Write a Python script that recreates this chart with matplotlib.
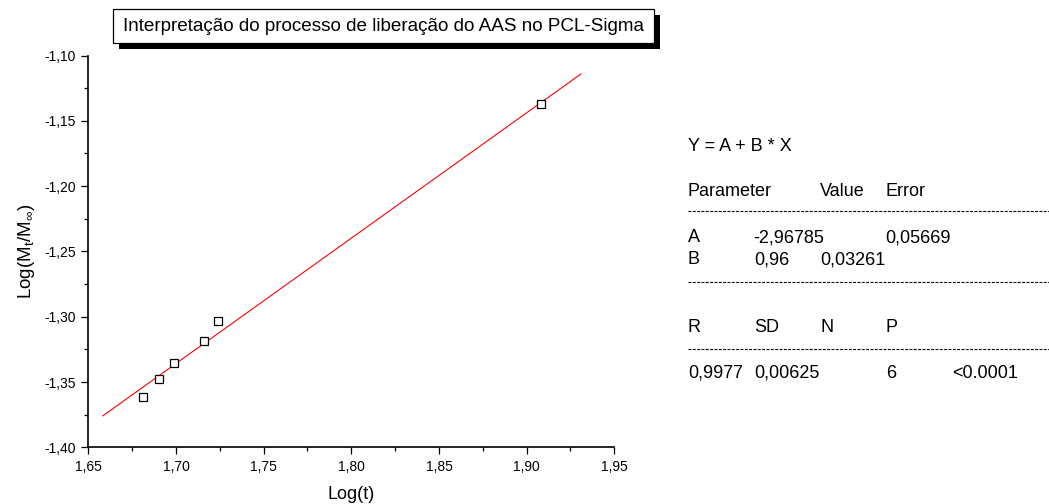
import matplotlib
matplotlib.use("Agg")
import matplotlib.pyplot as plt
from matplotlib.patches import Rectangle
from matplotlib.lines import Line2D

plt.rcParams['font.family'] = ['Liberation Sans', 'DejaVu Sans']
plt.rcParams['mathtext.fontset'] = 'custom'
plt.rcParams['mathtext.rm'] = 'Liberation Sans'
plt.rcParams['mathtext.it'] = 'Liberation Sans'

log_t = [1.6810, 1.6902, 1.6989, 1.7160, 1.7240, 1.9082]
log_m = [-1.3613, -1.3475, -1.3357, -1.3184, -1.3033, -1.1371]

# ajuste linear Y = A + B * X
fit_a = -2.96785
fit_b = 0.96

x_ticks = [1.65, 1.70, 1.75, 1.80, 1.85, 1.90, 1.95]
x_tick_labels = ['1,65', '1,70', '1,75', '1,80', '1,85', '1,90', '1,95']
y_ticks = [-1.40, -1.35, -1.30, -1.25, -1.20, -1.15, -1.10]
y_tick_labels = ['-1,40', '-1,35', '-1,30', '-1,25', '-1,20', '-1,15', '-1,10']

title = 'Interpretação do processo de liberação do AAS no PCL-Sigma'

# tabela do resultado do ajuste
table_header = ['Parameter', 'Value', 'Error']
row_a = ['A', '-2,96785', '0,05669']
row_b = ['B', '0,96', '0,03261']
stats_header = ['R', 'SD', 'N', 'P']
stats_values = ['0,9977', '0,00625', '6', '<0.0001']

W, H = 1049, 504


def px(x, y):
    return x / W, 1 - y / H


fig = plt.figure(figsize=(W / 100, H / 100), dpi=100)
ax = fig.add_axes([88.3 / W, 1 - 447.3 / H, 526 / W, 391.8 / H])

# reta do ajuste, estendida 10% do intervalo dos dados
span = max(log_t) - min(log_t)
x0 = min(log_t) - 0.1 * span
x1 = max(log_t) + 0.1 * span
ax.plot([x0, x1], [fit_a + fit_b * x0, fit_a + fit_b * x1], color='red', lw=0.8)
ax.plot(log_t, log_m, ls='none', marker='s', ms=6.3, mfc='white', mec='black', mew=0.9)

ax.set_xlim(1.65, 1.95)
ax.set_ylim(-1.40, -1.10)
ax.set_xticks(x_ticks)
ax.set_xticklabels(x_tick_labels)
ax.set_yticks(y_ticks)
ax.set_yticklabels(y_tick_labels)
ax.set_xticks([v + 0.025 for v in x_ticks[:-1]], minor=True)
ax.set_yticks([v + 0.025 for v in y_ticks[:-1]], minor=True)
ax.tick_params(which='major', direction='out', length=4.7, width=0.9, labelsize=10, pad=4.2)
ax.tick_params(which='minor', direction='out', length=2.9, width=0.9)
for side in ['top', 'right']:
    ax.spines[side].set_visible(False)
for side in ['left', 'bottom']:
    ax.spines[side].set_linewidth(1.2)

ax.set_xlabel('Log(t)', fontsize=13, labelpad=9)
ax.set_ylabel(r'Log(M$_{t}$/M$_{\infty}$)', fontsize=13.5, labelpad=5)

# caixa do titulo com sombra
bx0, by0 = px(113, 43)
bx1, by1 = px(654, 9.3)
sx, sy = 5.5 / W, 5.5 / H
fig.patches.append(Rectangle((bx0 + sx, by0 - sy), bx1 - bx0, by1 - by0,
                             transform=fig.transFigure, facecolor='black', edgecolor='black', lw=0))
fig.patches.append(Rectangle((bx0, by0), bx1 - bx0, by1 - by0,
                             transform=fig.transFigure, facecolor='white', edgecolor='black', lw=0.9))
fig.text((bx0 + bx1) / 2, (by0 + by1) / 2, title, fontsize=13.6, ha='center', va='center')

# texto do ajuste a direita
fs = 13
fig.text(*px(688, 151), 'Y = A + B * X', fontsize=fs, va='baseline')
for txt, x in zip(table_header, [688, 820, 885.7]):
    fig.text(*px(x, 195.5), txt, fontsize=fs, va='baseline')
for txt, x in zip(row_a, [688, 753, 885.7]):
    fig.text(*px(x, 242), txt, fontsize=fs, va='baseline')
for txt, x in zip(row_b, [688, 754, 820.7]):
    fig.text(*px(x, 264.5), txt, fontsize=fs, va='baseline')
for txt, x in zip(stats_header, [688, 754, 820, 885.7]):
    fig.text(*px(x, 332), txt, fontsize=fs, va='baseline')
for txt, x in zip(stats_values, [688, 754, 885.7, 951.7]):
    fig.text(*px(x, 378), txt, fontsize=fs, va='baseline')

for yy in [211, 281.7, 349.3]:
    fig.add_artist(Line2D([688 / W, 1.0], [1 - yy / H] * 2, transform=fig.transFigure,
                          color='black', lw=0.8, linestyle=(0, (2.6, 1.3))))

plt.savefig('out.png', dpi=100)
